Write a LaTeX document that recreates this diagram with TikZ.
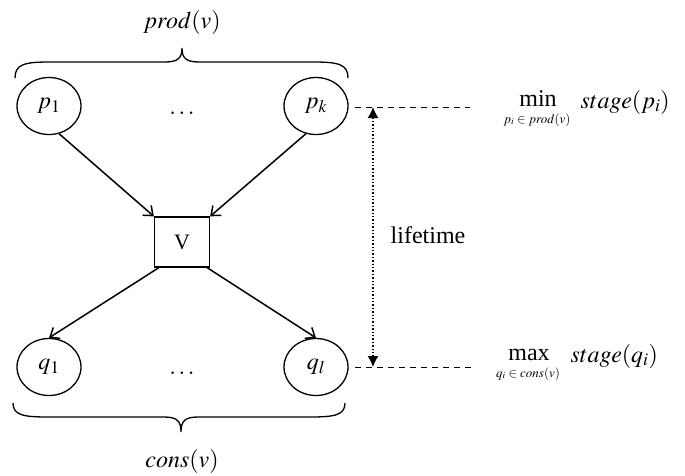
\documentclass[tikz,border=0pt]{standalone}
\usepackage{mathptmx}
\usepackage{fontspec}
\setmainfont{Liberation Serif}
\usetikzlibrary{shapes.geometric,arrows.meta}
\begin{document}
\begin{tikzpicture}[x=1pt,y=-1pt,
  oval/.style={ellipse,draw,line width=1.3pt,minimum width=64pt,minimum height=57pt,inner sep=0pt,font=\fontsize{24}{26}\selectfont},
  vbox/.style={rectangle,draw,line width=1.3pt,minimum width=55pt,minimum height=50pt,inner sep=0pt,font=\fontsize{22}{24}\selectfont},
  flow/.style={line width=1.5pt,-{Straight Barb[length=8pt,width=13pt]}},
  guide/.style={line width=1pt,dash pattern=on 6pt off 5pt},
  life/.style={line width=1.4pt,dotted,{Latex[length=11pt,width=11pt]}-{Latex[length=11pt,width=11pt]}},
  bracepath/.style={line width=1.3pt},
  big/.style={font=\fontsize{24}{26}\selectfont,inner sep=0.5pt},
  tiny/.style={font=\fontsize{13}{14}\selectfont,inner sep=0.5pt},
]
\useasboundingbox (0,0) rectangle (685,475);
% nodes
\node[oval] (p1) at (49,106) {$p_1$};
\node[oval] (pk) at (316,106) {$p_k$};
\node[oval] (q1) at (49,367) {$q_1$};
\node[oval] (ql) at (316,367) {$q_l$};
\node[vbox] (v) at (182,242) {V};
\node[big] (d1) at (182,113) {$\dots$};
\node[big] (d2) at (182,373) {$\dots$};
% connectors
\draw[flow] (p1.-70) -- (v.north west);
\draw[flow] (pk.-110) -- (v.north east);
\draw[flow] ([xshift=5pt]v.south west) -- (q1.north);
\draw[flow] ([xshift=-3pt]v.south east) -- (ql.north);
% braces
\draw[bracepath] (15,78) .. controls (15,64) and (25,62) .. (50,62) -- (165,62)
  .. controls (178,62) and (182,58) .. (182,48) .. controls (182,58) and (186,62) .. (199,62)
  -- (313,62) .. controls (338,62) and (348,64) .. (348,78);
\draw[bracepath] (13,403) .. controls (13,415) and (23,417) .. (48,417) -- (164,417)
  .. controls (177,417) and (181,421) .. (181,432) .. controls (181,421) and (185,417) .. (198,417)
  -- (310,417) .. controls (335,417) and (345,415) .. (345,403);
\node[big,anchor=base] (prod) at (182,28) {$prod(v)$};
\node[big,anchor=base] (cons) at (182,467) {$cons(v)$};
% lifetime
\coordinate (lt) at (373,107);
\coordinate (lb) at (373,367);
\draw[life] (lt) -- (lb);
\coordinate (ga) at (355,107);
\coordinate (gb) at (470,107);
\coordinate (gc) at (355,367);
\coordinate (gd) at (472,367);
\draw[guide] (ga) -- (gb);
\draw[guide] (gc) -- (gd);
\node[big,anchor=base west] (life) at (390,243) {lifetime};
% min / max
\node[big,anchor=base] (mn) at (538,106) {min};
\node[tiny,anchor=base] (mns) at (537,123) {$p_i\in prod(v)$};
\node[big,anchor=base west] (st1) at (580,108) {$stage(p_i)$};
\node[big,anchor=base] (mx) at (529,360) {max};
\node[tiny,anchor=base] (mxs) at (528,377) {$q_i\in cons(v)$};
\node[big,anchor=base west] (st2) at (570,362) {$stage(q_i)$};
\end{tikzpicture}
\end{document}
